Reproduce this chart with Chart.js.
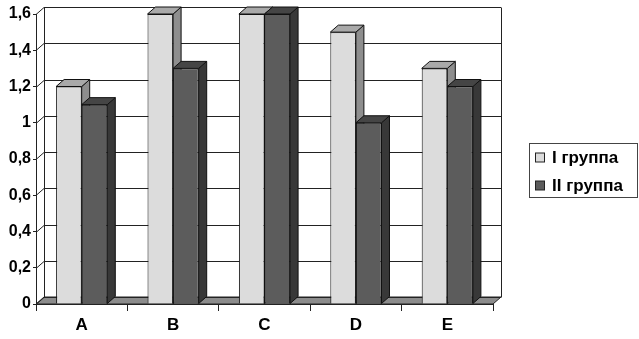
<!DOCTYPE html>
<html>
<head>
<meta charset="utf-8">
<script src="https://cdn.jsdelivr.net/npm/chart.js@4.4.0/dist/chart.umd.min.js"></script>
<style>
html, body { margin: 0; padding: 0; background: #fff; }
#wrap { width: 639px; height: 339px; }
</style>
</head>
<body>
<div id="wrap"><canvas id="bars"></canvas></div>
<script>
// data
const categories = ['A', 'B', 'C', 'D', 'E'];
const group1 = [1.2, 1.6, 1.6, 1.5, 1.3];
const group2 = [1.1, 1.3, 1.6, 1.0, 1.2];
const seriesNames = ['I группа', 'II группа'];

const font = "'Liberation Sans', Arial, sans-serif";
const dx = 8, dy = -7;   // 3d depth

// face colours: front, top, side
const shades = [
    ['#dcdcdc', '#a9a9a9', '#8e8e8e'],
    ['#5c5c5c', '#454545', '#383838'],
];

function poly(ctx, pts, fill) {
    ctx.beginPath();
    ctx.moveTo(pts[0][0], pts[0][1]);
    for (let i = 1; i < pts.length; i++) ctx.lineTo(pts[i][0], pts[i][1]);
    ctx.closePath();
    ctx.fillStyle = fill;
    ctx.fill();
    ctx.stroke();
}

const box3d = {
    id: 'box3d',
    beforeDatasetsDraw(chart) {
        const {ctx, chartArea: a, scales: {y}} = chart;
        ctx.save();
        ctx.lineWidth = 1;
        ctx.strokeStyle = '#222';
        // floor
        poly(ctx, [[a.left, a.bottom], [a.right, a.bottom], [a.right + dx, a.bottom + dy], [a.left + dx, a.bottom + dy]], '#8c8c8c');
        // back wall gridlines
        ctx.beginPath();
        y.ticks.forEach(t => {
            const py = Math.round(y.getPixelForValue(t.value)) + 0.5;
            ctx.moveTo(a.left, py);
            ctx.lineTo(a.left + dx, py + dy);
            ctx.lineTo(a.right + dx, py + dy);
        });
        const top = Math.round(y.getPixelForValue(y.max)) + 0.5 + dy;
        const bot = Math.round(y.getPixelForValue(0)) + 0.5 + dy;
        ctx.moveTo(a.left + dx + 0.5, top);
        ctx.lineTo(a.left + dx + 0.5, bot);
        ctx.moveTo(a.right + dx + 0.5, top);
        ctx.lineTo(a.right + dx + 0.5, bot);
        ctx.stroke();

        // top and side faces of every bar, fronts are drawn by chart.js afterwards
        ctx.strokeStyle = '#111';
        chart.data.datasets.forEach((d, i) => {
            const c = shades[i];
            chart.getDatasetMeta(i).data.forEach(bar => {
                const {x, y: top, base, width} = bar.getProps(['x', 'y', 'base', 'width'], true);
                const l = x - width / 2, r = x + width / 2;
                poly(ctx, [[r, top], [r + dx, top + dy], [r + dx, base + dy], [r, base]], c[2]);
                poly(ctx, [[l, top], [l + dx, top + dy], [r + dx, top + dy], [r, top]], c[1]);
            });
        });
        ctx.restore();
    },
    afterDraw(chart) {
        const {ctx} = chart;
        ctx.save();
        ctx.lineWidth = 1;
        ctx.strokeStyle = '#444';
        ctx.strokeRect(529.5, 143.5, 108, 54);
        ctx.font = 'bold 17px ' + font;
        ctx.textBaseline = 'middle';
        seriesNames.forEach((name, i) => {
            const cy = 157.5 + i * 28;
            ctx.fillStyle = shades[i][0];
            ctx.fillRect(535.5, cy - 4.5, 9, 9);
            ctx.strokeStyle = '#222';
            ctx.strokeRect(535.5, cy - 4.5, 9, 9);
            ctx.fillStyle = '#000';
            ctx.fillText(name, 552, cy + 1);
        });
        ctx.restore();
    }
};

const data = {
    labels: categories,
    datasets: [
        {label: seriesNames[0], data: group1, backgroundColor: shades[0][0]},
        {label: seriesNames[1], data: group2, backgroundColor: shades[1][0]},
    ]
};
data.datasets.forEach(d => {
    d.borderColor = '#111';
    d.borderWidth = 1;
    d.categoryPercentage = 0.56;
    d.barPercentage = 1;
});

const options = {
    responsive: true,
    maintainAspectRatio: false,
    animation: false,
    layout: {padding: {left: 0, top: 14, right: 146, bottom: 0}},
    plugins: {legend: {display: false}, tooltip: {enabled: false}},
    scales: {
        x: {
            grid: {drawOnChartArea: false, tickLength: 7, color: '#222', offset: true},
            border: {color: '#222'},
            ticks: {color: '#000', padding: 4, font: {family: font, size: 17, weight: 'bold'}},
            afterFit(s) { s.height = 35; }
        },
        y: {
            min: 0,
            max: 1.6,
            grid: {drawOnChartArea: false, tickLength: 3, color: '#222'},
            border: {color: '#222'},
            ticks: {
                stepSize: 0.2,
                color: '#000',
                padding: 2,
                font: {family: font, size: 16, weight: 'bold'},
                callback: v => String(Math.round(v * 10) / 10).replace('.', ',')
            },
            afterFit(s) { s.width = 36; }
        }
    }
};

new Chart(document.getElementById('bars'), {
    type: 'bar',
    data,
    options,
    plugins: [box3d]
});
</script>
</body>
</html>
